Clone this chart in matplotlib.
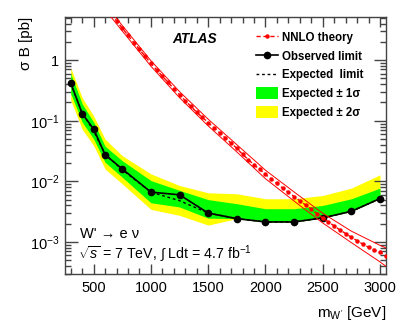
import numpy as np
import matplotlib
matplotlib.use("Agg")
import matplotlib.pyplot as plt
from matplotlib.ticker import FixedLocator, FixedFormatter, MultipleLocator, LogLocator, NullFormatter
from matplotlib.patches import Patch
from matplotlib.lines import Line2D

plt.rcParams['font.family'] = ['Liberation Sans', 'DejaVu Sans']
plt.rcParams['mathtext.fontset'] = 'custom'
plt.rcParams['mathtext.rm'] = 'Liberation Sans'
plt.rcParams['mathtext.it'] = 'Liberation Sans:italic'
plt.rcParams['mathtext.bf'] = 'Liberation Sans:bold'

# ---- data ----
mass = [300, 400, 500, 600, 750, 1000, 1250, 1500, 1750, 2000, 2250, 2500, 2750, 3000]
observed = [0.42, 0.131, 0.073, 0.0275, 0.016, 0.00665, 0.0060, 0.0030, 0.00243, 0.00214, 0.00214, 0.0025, 0.0032, 0.0052]
expected = [0.41, 0.135, 0.068, 0.028, 0.0155, 0.00665, 0.0048, 0.0030, 0.00243, 0.00214, 0.00214, 0.0025, 0.0032, 0.0052]
exp_p1 = [0.60, 0.19, 0.095, 0.038, 0.0219, 0.0103, 0.0071, 0.0050, 0.00428, 0.00354, 0.00354, 0.00401, 0.00516, 0.00774]
exp_m1 = [0.28, 0.095, 0.050, 0.0206, 0.0117, 0.00444, 0.00378, 0.00247, 0.00243, 0.00214, 0.00214, 0.0025, 0.0032, 0.0052]
exp_p2 = [0.745, 0.24, 0.12, 0.0497, 0.0265, 0.0133, 0.00853, 0.00648, 0.00624, 0.00516, 0.00516, 0.00585, 0.00774, 0.0128]
exp_m2 = [0.22, 0.072, 0.039, 0.016, 0.0091, 0.00345, 0.00275, 0.0019, 0.00243, 0.00214, 0.00214, 0.0025, 0.0032, 0.0052]

theory_mass = [650, 700, 750, 800, 850, 900, 950, 1000, 1050, 1100, 1150, 1200, 1250, 1300,
               1350, 1400, 1450, 1500, 1550, 1600, 1650, 1700, 1750, 1800, 1850, 1900, 1950,
               2000, 2050, 2100, 2150, 2200, 2250, 2300, 2350, 2400, 2450, 2500, 2550, 2600,
               2650, 2700, 2750, 2800, 2850, 2900, 2950, 3000, 3050]
theory = [5.75, 4.42, 3.35, 2.57, 1.95, 1.50, 1.15, 0.881, 0.692, 0.543, 0.429, 0.339, 0.269, 0.214,
          0.172, 0.138, 0.1135, 0.0933, 0.0767, 0.0631, 0.0519, 0.0427, 0.0351, 0.0279, 0.0229, 0.0188, 0.0157,
          0.0130, 0.01096, 0.00923, 0.00776, 0.00661, 0.00562, 0.00479, 0.00407, 0.00347, 0.00292, 0.00248, 0.00214, 0.00184,
          0.00158, 0.00138, 0.00120, 0.00105, 0.000923, 0.000822, 0.000741, 0.000676, 0.000596]

band_mass = [650, 750, 1000, 1250, 1500, 1750, 2000, 2250, 2500, 2750, 3000, 3050]
theory_up = [6.38, 3.72, 0.977, 0.302, 0.1059, 0.0403, 0.01528, 0.00668, 0.00298, 0.00151, 0.00088, 0.00080]
theory_dn = [5.18, 3.02, 0.794, 0.240, 0.0822, 0.0306, 0.01106, 0.00473, 0.00206, 0.000976, 0.00047, 0.00040]

fig = plt.figure(figsize=(4.07, 3.27), dpi=100)
ax = fig.add_axes([0.1597, 0.163, 0.788, 0.786])

ax.fill_between(mass, exp_m2, exp_p2, color='#ffff00', lw=0, zorder=1)
ax.fill_between(mass, exp_m1, exp_p1, color='#00ff00', lw=0, zorder=2)
ax.plot(mass, expected, color='black', lw=1.0, ls=(0, (2, 2)), zorder=3)
ax.plot(mass, observed, color='black', lw=1.2, marker='o', ms=4.5, zorder=4)
ax.plot(band_mass, theory_up, color='#ff0000', lw=0.7, zorder=5)
ax.plot(band_mass, theory_dn, color='#ff0000', lw=0.7, zorder=5)
ax.plot(theory_mass, theory, color='#ff0000', lw=1.0, ls=(0, (3, 2)), marker='o', ms=3.2,
        markeredgewidth=0, zorder=6)

ax.set_yscale('log')
ax.set_xlim(250, 3050)
ax.set_ylim(3e-4, 5.2)

ax.xaxis.set_major_locator(FixedLocator([500, 1000, 1500, 2000, 2500, 3000]))
ax.xaxis.set_minor_locator(MultipleLocator(100))
ax.yaxis.set_major_locator(FixedLocator([1e-3, 1e-2, 1e-1, 1]))
ax.yaxis.set_major_formatter(FixedFormatter([r'$10^{-3}$', r'$10^{-2}$', r'$10^{-1}$', '1']))
ax.yaxis.set_minor_locator(LogLocator(base=10, subs=np.arange(2, 10), numticks=20))
ax.yaxis.set_minor_formatter(NullFormatter())

ax.tick_params(which='both', direction='in', top=True, right=True, colors='#444444',
               labelcolor='black', labelsize=10.5)
ax.tick_params(axis='x', which='major', length=7, width=1, pad=5)
ax.tick_params(axis='x', which='minor', length=4, width=1)
ax.tick_params(axis='y', which='major', length=9, width=1, pad=4)
ax.tick_params(axis='y', which='minor', length=4.5, width=1)
for s in ax.spines.values():
    s.set_color('#444444')
    s.set_linewidth(1.0)

ax.set_ylabel('σ B [pb]', fontsize=11, loc='top', labelpad=-2)
ax.set_xlabel(r"m$_{\mathrm{W'}}$ [GeV]", fontsize=11, loc='right', labelpad=7)

ax.text(0.333, 0.912, 'ATLAS', transform=ax.transAxes, fontsize=9.8, fontweight='bold',
        fontstyle='italic', va='center', ha='left')
ax.text(0.048, 0.155, "W' → e ν", transform=ax.transAxes, fontsize=10.5, va='center', ha='left',
        family=['DejaVu Sans'] if False else ['Liberation Sans', 'DejaVu Sans'])
ax.text(0.04, 0.075, r'$\sqrt{s}$ = 7 TeV, $\int$ Ldt = 4.7 fb$^{-1}$', transform=ax.transAxes,
        fontsize=10.2, va='center', ha='left')

handles = [
    Line2D([], [], color='#ff0000', lw=1.0, ls=(0, (3, 2)), marker='o', ms=3.2, markeredgewidth=0),
    Line2D([], [], color='black', lw=1.2, marker='o', ms=4.5),
    Line2D([], [], color='black', lw=1.0, ls=(0, (2, 2))),
    Patch(facecolor='#00ff00', edgecolor='none'),
    Patch(facecolor='#ffff00', edgecolor='none'),
]
labels = ['NNLO theory', 'Observed limit', 'Expected  limit', 'Expected ± 1σ', 'Expected ± 2σ']
leg = ax.legend(handles, labels, loc='upper left', bbox_to_anchor=(0.58, 0.96), frameon=False,
                prop={'weight': 'bold', 'size': 8.3}, handlelength=1.9, handleheight=1.2,
                labelspacing=0.5, handletextpad=0.4, borderaxespad=0)

fig.savefig('out.png', dpi=100)
